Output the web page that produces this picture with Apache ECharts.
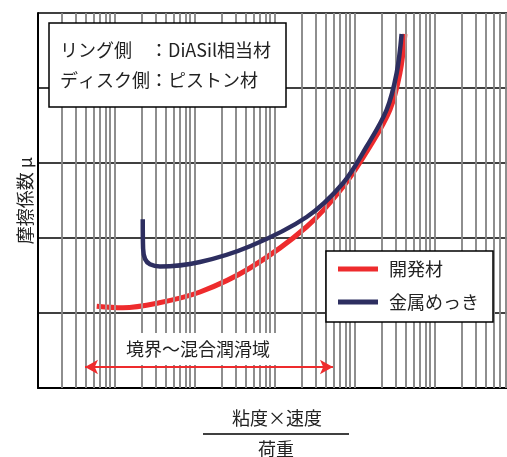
<!DOCTYPE html>
<html>
<head>
<meta charset="utf-8">
<script src="https://cdn.jsdelivr.net/npm/echarts@6/dist/echarts.min.js"></script>
<style>
  html, body { margin: 0; padding: 0; background: #fff; }
  #chart { width: 507px; height: 457px; }
</style>
</head>
<body>
<div id="chart"></div>
<script>
// 系列名
var seriesNames = ["開発材", "金属めっき"];

// 開発材 (x: 粘度×速度/荷重, 対数軸)
var devX = [5.42, 11.5, 30.7, 106, 447, 2285, 6494, 14125, 25119, 33497, 38681];
var devY = [1.09, 1.07, 1.13, 1.28, 1.60, 2.15, 2.68, 3.22, 3.71, 4.20, 4.72];

// 金属めっき
var platX = [20.4, 20.6, 21.8, 25.1, 33.5, 106, 447, 2285, 6494, 12853, 22856, 30479, 35156];
var platY = [2.25, 1.86, 1.72, 1.65, 1.62, 1.68, 1.89, 2.28, 2.73, 3.22, 3.71, 4.20, 4.72];

// 境界～混合潤滑域 の矢印
var regionX = [3.87, 4870];
var regionY = 0.28;

var xMin = 1, xMax = 730000;
var jp = '"Noto Sans CJK JP", "Noto Sans", sans-serif';

function zip(xs, ys) {
  return xs.map(function (x, i) { return [x, ys[i]]; });
}

/*TODO:補助目盛 (2～9)*/
var minorTicks = [];
for (var d = 0; d < 6; d++) {
  for (var k = 2; k <= 9; k++) {
    var v = k * Math.pow(10, d);
    if (v < xMax) minorTicks.push(v);
  }
}

var chart = echarts.init(document.getElementById("chart"));

var option = {
  animation: false,
  textStyle: { fontFamily: jp },
  grid: { left: 38, right: 0, top: 13, bottom: 69 },
  xAxis: {
    type: "log",
    logBase: 10,
    min: xMin,
    max: xMax,
    z: 2,
    axisLine: { show: true, lineStyle: { color: "#000", width: 2 } },
    axisTick: {
      show: true,
      inside: true,
      length: 7,
      customValues: minorTicks,
      lineStyle: { color: "#333", width: 1.5 }
    },
    axisLabel: { show: false },
    splitLine: { show: true, lineStyle: { color: "#000", width: 1.5 } }
  },
  yAxis: {
    type: "value",
    min: 0,
    max: 5,
    interval: 1,
    z: 2,
    name: "摩擦係数 μ",
    nameLocation: "middle",
    nameRotate: 90,
    nameGap: 4,
    nameTextStyle: { fontSize: 18, color: "#222", fontFamily: jp },
    axisLine: { show: true, lineStyle: { color: "#000", width: 2 } },
    axisTick: { show: false },
    axisLabel: { show: false },
    splitLine: { show: true, lineStyle: { color: "#000", width: 1.5 } }
  },
  legend: {
    data: seriesNames,
    orient: "vertical",
    left: 326,
    top: 251,
    padding: [9, 14, 11, 12],
    itemGap: 15,
    itemWidth: 40,
    itemHeight: 5,
    icon: "rect",
    backgroundColor: "#fff",
    borderColor: "#000",
    borderWidth: 1.5,
    z: 8,
    textStyle: { fontSize: 18, color: "#222", fontFamily: jp, padding: [0, 0, 0, 6] }
  },
  series: [
    {
      name: "grid-minor",
      type: "line",
      data: [],
      z: 1,
      silent: true,
      markLine: {
        silent: true,
        symbol: "none",
        label: { show: false },
        lineStyle: { color: "#a8a8a8", width: 1.5, type: "solid" },
        emphasis: { disabled: true },
        data: minorTicks.map(function (v) { return { xAxis: v }; })
      }
    },
    {
      name: seriesNames[0],
      type: "line",
      z: 4,
      smooth: 0.35,
      showSymbol: false,
      color: "#ee2b2d",
      lineStyle: { width: 5, color: "#ee2b2d" },
      data: zip(devX, devY),
      markLine: {
        silent: true,
        symbol: ["arrow", "arrow"],
        symbolSize: [11, 13],
        label: { show: false },
        lineStyle: { color: "#ee2b2d", width: 2, type: "solid" },
        data: [[{ coord: [regionX[0], regionY] }, { coord: [regionX[1], regionY] }]]
      }
    },
    {
      name: seriesNames[1],
      type: "line",
      z: 5,
      smooth: 0.35,
      showSymbol: false,
      color: "#2d2e60",
      lineStyle: { width: 4.5, color: "#2d2e60" },
      data: zip(platX, platY)
    }
  ],
  graphic: [
    { type: "rect", z: 100, shape: { x: 49, y: 23, width: 237, height: 84 },
      style: { fill: "#fff", stroke: "#000", lineWidth: 1.5 } },
    { type: "text", z: 101, style: { x: 60, y: 50, text: "リング側　：DiASil相当材", font: "18px " + jp, fill: "#222", verticalAlign: "middle" } },
    { type: "text", z: 101, style: { x: 60, y: 80, text: "ディスク側：ピストン材", font: "18px " + jp, fill: "#222", verticalAlign: "middle" } },

    { type: "rect", z: 100, shape: { x: 118, y: 333, width: 160, height: 32 }, style: { fill: "#fff" } },
    { type: "text", z: 101, style: { x: 198, y: 349, text: "境界～混合潤滑域", font: "18px " + jp, fill: "#222", align: "center", verticalAlign: "middle" } },

    { type: "text", z: 101, style: { x: 277, y: 418, text: "粘度×速度", font: "18px " + jp, fill: "#222", align: "center", verticalAlign: "middle" } },
    { type: "line", z: 101, shape: { x1: 203, y1: 434, x2: 349, y2: 434 }, style: { stroke: "#000", lineWidth: 1.5 } },
    { type: "text", z: 101, style: { x: 276, y: 449, text: "荷重", font: "18px " + jp, fill: "#222", align: "center", verticalAlign: "middle" } }
  ]
};

chart.setOption(option);
</script>
</body>
</html>
